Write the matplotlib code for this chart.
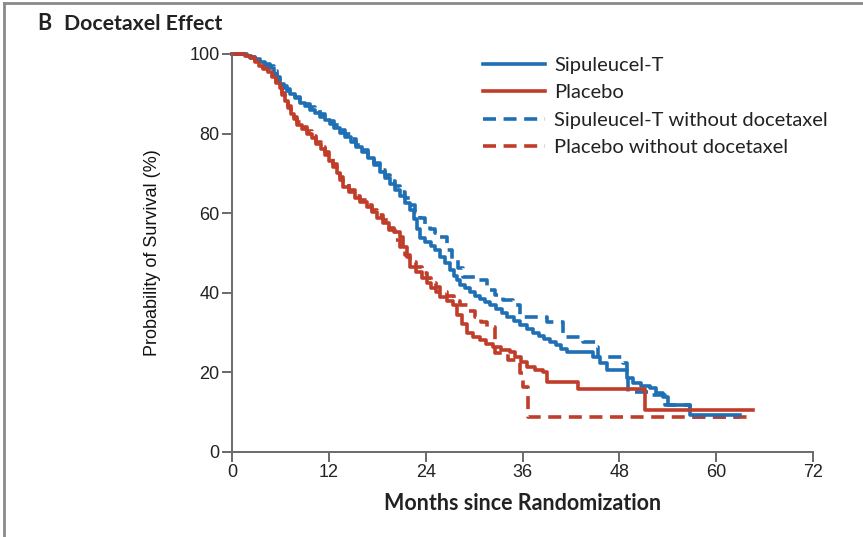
import numpy as np
import matplotlib.pyplot as plt
from matplotlib.lines import Line2D

# Kaplan-Meier curves (months, % surviving)
sip_t = [0, 1.2, 1.8, 2.4, 2.9, 3.5, 4.1, 4.7, 5.2, 5.6, 5.9, 6.4, 6.8, 7.2, 7.8, 8.4,
         9.0, 9.7, 10.3, 10.9, 11.5, 12.1, 12.7, 13.4, 14.0, 14.7, 15.4, 16.1, 16.8,
         17.6, 18.3, 18.9, 19.6, 20.2, 20.8, 21.5, 22.1, 22.5, 22.9, 23.3, 23.9, 24.6,
         25.2, 25.8, 26.4, 27.0, 27.5, 27.9, 28.3, 28.9, 29.5, 30.1, 30.7, 31.4, 32.0,
         32.7, 33.4, 34.1, 34.9, 35.7, 36.5, 37.3, 38.0, 38.7, 39.4, 40.1, 40.8, 41.5,
         44.7, 45.6, 46.5, 48.9, 49.7, 50.7, 51.8, 52.6, 53.4, 54.0, 56.8, 62.9]
sip_s = [100, 100, 99.5, 99, 98.5, 98, 97.3, 96.5, 95, 93.7, 92.5, 91.5, 90.7, 90, 88.9,
         87.7, 86.9, 86, 85.2, 84.2, 83.3, 82.4, 81.3, 80.2, 79.1, 77.9, 76.7, 75.4,
         73.8, 72.1, 70.4, 68.9, 67.3, 65.8, 64.2, 62.5, 60.8, 58.5, 56, 53.8, 52.8,
         51.8, 50.8, 49.1, 47.4, 45.7, 44.3, 43.1, 42.0, 41.1, 40.1, 39.2, 38.4, 37.7,
         36.9, 35.9, 34.9, 33.9, 32.9, 31.9, 30.9, 29.9, 29.1, 28.4, 27.6, 26.8, 25.9,
         25.1, 23.9, 22.4, 20.6, 18.6, 17.3, 16.7, 16.1, 14.9, 13.8, 11.8, 9.3, 9.3]

pla_t = [0, 1.0, 1.6, 2.2, 2.8, 3.4, 3.9, 4.5, 5.0, 5.5, 5.9, 6.2, 6.6, 6.9, 7.3, 7.7,
         8.1, 8.7, 9.3, 9.9, 10.4, 11.0, 11.5, 12.0, 12.5, 13.0, 13.4, 13.8, 14.5, 15.2,
         15.9, 16.7, 17.4, 18.0, 18.7, 19.4, 20.1, 20.8, 21.2, 21.7, 22.1, 22.8, 23.5,
         24.2, 24.7, 25.3, 25.8, 26.6, 27.4, 27.9, 28.5, 29.1, 29.9, 30.7, 31.5, 32.3,
         33.3, 34.4, 35.1, 35.8, 36.6, 37.5, 38.5, 39.0, 42.9, 51.2, 64.6]
pla_s = [100, 100, 99.5, 99, 98, 97, 96.3, 95.5, 94.2, 92.8, 91.5, 89.8, 88.1, 86.4, 85,
         83.6, 82.2, 81.1, 80, 78.9, 77.5, 76, 74.6, 73.1, 71.6, 70.1, 68.4, 66.6, 65.2,
         63.8, 62.7, 61.6, 60.2, 58.8, 57.5, 56.3, 55.2, 54.0, 51.5, 49, 46.5, 45.2,
         43.8, 42.5, 41.3, 40.1, 38.9, 37.9, 36.9, 34.5, 32.2, 29.9, 29, 28.1, 27.2,
         26.4, 25.7, 25.1, 23.9, 22.6, 21.4, 20.7, 20.1, 17.6, 15.8, 10.6, 10.6]

sip_nd_t = [0, 1.2, 1.8, 2.4, 2.9, 3.5, 4.1, 4.7, 5.2, 5.6, 5.9, 6.4, 6.8, 7.2, 7.8, 8.4,
            9.0, 9.7, 10.3, 10.9, 11.5, 12.1, 12.7, 13.4, 14.0, 14.7, 15.4, 16.1, 16.8,
            17.6, 18.3, 18.9, 19.6, 20.2, 20.8, 21.5, 22.1, 22.7, 23.3, 23.9, 24.5, 25.2,
            25.8, 26.6, 27.3, 28.0, 28.6, 30.4, 31.6, 32.6, 33.6, 34.8, 35.7, 39.0, 41.0,
            43.5, 45.2, 45.4, 48.5, 48.9, 49.1, 51.8, 53.7, 56.8, 62.9]
sip_nd_s = [100, 100, 99.6, 99.2, 98.7, 98.2, 97.6, 97, 95.6, 94.3, 93, 92, 91.2, 90.5,
            89.3, 88.2, 87.4, 86.6, 85.9, 85, 84.1, 83.2, 82.1, 81, 79.9, 78.6, 77.2,
            75.9, 74.2, 72.6, 70.9, 69.5, 68.1, 66.8, 65.3, 63.7, 62.1, 60.4, 58.7, 57.0,
            56, 55, 54.0, 50.8, 48.5, 46.2, 44.0, 43.2, 40.7, 39.5, 38.2, 36.9, 33.9,
            32.7, 28.9, 27.6, 26.4, 23.9, 22.4, 18.8, 15.1, 14.3, 11.8, 8.8, 8.8]

pla_nd_t = [0, 1.0, 1.6, 2.2, 2.8, 3.4, 3.9, 4.5, 5.0, 5.5, 5.9, 6.2, 6.6, 6.9, 7.3, 7.7,
            8.1, 8.7, 9.3, 9.9, 10.4, 11.0, 11.5, 12.0, 12.5, 13.0, 13.4, 13.8, 14.5,
            15.2, 15.9, 16.7, 17.4, 18.0, 18.7, 19.4, 20.2, 20.8, 21.5, 22.1, 22.8, 23.5,
            24.2, 24.7, 25.3, 25.8, 26.6, 27.5, 28.3, 29.2, 30.1, 30.9, 31.6, 32.6, 34.2,
            35.7, 36.1, 36.7, 64.4]
pla_nd_s = [100, 100, 99.6, 99.2, 98.2, 97.2, 96.5, 95.7, 94.4, 93, 91.7, 90.1, 88.5,
            86.9, 85.6, 84.2, 82.9, 81.7, 80.6, 79.4, 78, 76.7, 75.4, 73.9, 72.4, 70.9,
            69.1, 67.3, 65.8, 64.3, 63.2, 62.1, 60.8, 59.5, 58.3, 55.8, 53.3, 51.5, 49.6,
            47.7, 46.4, 45, 43.7, 42.5, 41.4, 40.2, 39.1, 38, 36.9, 35.4, 33.9, 32.6,
            31.4, 24.9, 23.1, 19.8, 16.3, 8.8, 8.8]

labels = ['Sipuleucel-T', 'Placebo', 'Sipuleucel-T without docetaxel',
          'Placebo without docetaxel']
xticks = [0, 12, 24, 36, 48, 60, 72]
yticks = [0, 20, 40, 60, 80, 100]

blue = '#1f6fb5'
red = '#c03d2a'
axis_gray = '#6a6a6a'

fig = plt.figure(figsize=(8.63, 5.37), dpi=100)
ax = fig.add_axes([0.2688, 0.1583, 0.6733, 0.7412])

lw = 2.6
dash = (3.6, 2.1)
ax.plot(sip_nd_t, sip_nd_s, drawstyle='steps-post', color=blue, lw=lw, dashes=dash,
        clip_on=False)
ax.plot(pla_nd_t, pla_nd_s, drawstyle='steps-post', color=red, lw=lw, dashes=dash,
        clip_on=False)
ax.plot(sip_t, sip_s, drawstyle='steps-post', color=blue, lw=lw, clip_on=False)
ax.plot(pla_t, pla_s, drawstyle='steps-post', color=red, lw=lw, clip_on=False)

ax.set_xlim(0, 72)
ax.set_ylim(0, 100)
ax.set_xticks(xticks)
ax.set_yticks(yticks)
for s in ['top', 'right']:
    ax.spines[s].set_visible(False)
for s in ['left', 'bottom']:
    ax.spines[s].set_color(axis_gray)
    ax.spines[s].set_linewidth(1.4)
ax.tick_params(direction='out', length=7, width=1.4, color=axis_gray,
               labelsize=13, pad=2)
for lab in ax.get_xticklabels() + ax.get_yticklabels():
    lab.set_family('Liberation Sans')
    lab.set_color('#222222')

ax.set_ylabel('Probability of Survival (%)', family='Liberation Sans', fontsize=13,
              color='#111111', labelpad=20)
ax.set_xlabel('Months since Randomization', family='Lato', fontsize=15.5,
              fontweight='bold', color='#222222', labelpad=8)

handles = [Line2D([], [], color=blue, lw=lw),
           Line2D([], [], color=red, lw=lw),
           Line2D([], [], color=blue, lw=lw, dashes=dash),
           Line2D([], [], color=red, lw=lw, dashes=dash)]
leg = ax.legend(handles, labels, loc='upper left', bbox_to_anchor=(0.432, 0.992),
                frameon=False, handlelength=3.1, handletextpad=0.45, borderpad=0,
                borderaxespad=0, labelspacing=0.5,
                prop={'family': 'Lato', 'size': 14.5})
for t in leg.get_texts():
    t.set_color('#222222')

fig.text(0.043, 0.956, 'B', fontsize=15.5, fontweight='bold', family='Lato',
         color='#222222', va='center')
fig.text(0.074, 0.956, 'Docetaxel Effect', fontsize=15.3, fontweight='bold',
         family='Lato', color='#222222', va='center')

# panel frame
fig.add_artist(Line2D([0.005, 0.005], [0, 0.995], transform=fig.transFigure,
                      color='#8a8a8a', lw=2))
fig.add_artist(Line2D([0.005, 1], [0.995, 0.995], transform=fig.transFigure,
                      color='#8a8a8a', lw=2))

fig.savefig('out.png', dpi=100)
